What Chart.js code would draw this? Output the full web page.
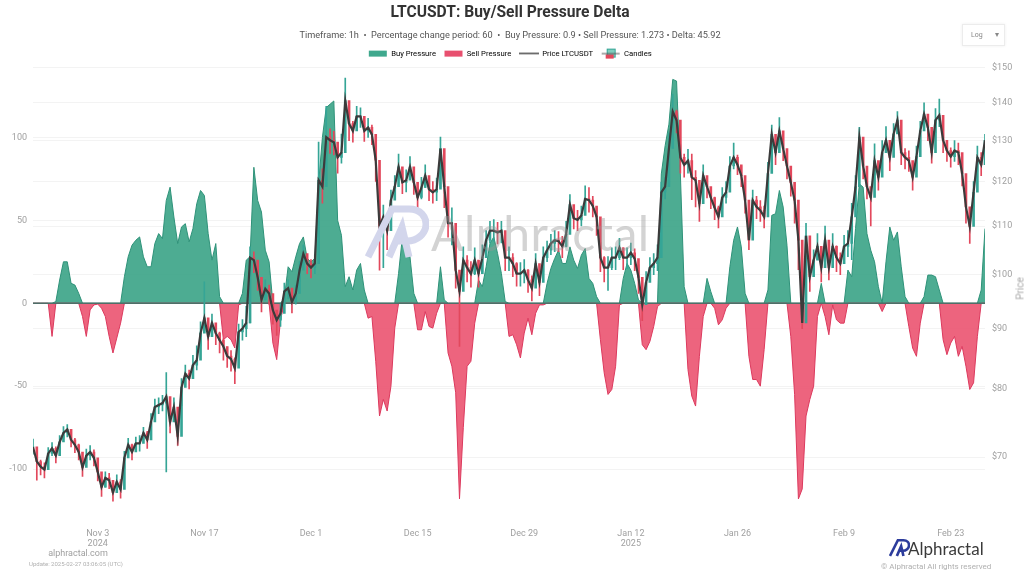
<!DOCTYPE html>
<html>
<head>
<meta charset="utf-8">
<title>LTCUSDT: Buy/Sell Pressure Delta</title>
<script src="https://cdn.jsdelivr.net/npm/chart.js@4/dist/chart.umd.min.js"></script>
<style>
    body { margin: 0; background: #fff; font-family: Roboto, sans-serif; }
    #wrap { position: relative; width: 1024px; height: 570px; overflow: hidden; }
    canvas { display: block; }
    .over { position: absolute; white-space: nowrap; pointer-events: none; }
    #log-box { left: 962px; top: 24px; width: 43px; height: 22px; box-sizing: border-box; border: 1px solid #ececec; box-shadow: 0 0 3px #eee; font-size: 7px; color: #888; line-height: 20px; padding-left: 8px; }
    #log-box span { position: absolute; right: 5px; font-size: 8px; }
    #price-title { left: 1000px; top: 283px; width: 40px; text-align: center; font-size: 10px; color: #aaa; transform: rotate(-90deg); }
    #mark { left: 365px; top: 203px; width: 64px; height: 56px; }
    #mark-text { left: 431px; top: 206px; font-family: Lato, sans-serif; font-size: 48px; line-height: 54px; color: rgba(150,150,150,0.42); letter-spacing: 0.5px; }
    #site { left: 18px; width: 120px; top: 548px; text-align: center; font-size: 9px; color: #a0a0a0; }
    #update { left: 16px; width: 120px; top: 560px; text-align: center; font-size: 6px; color: #b0b0b0; }
    #logo { left: 889px; top: 537px; width: 21px; height: 21px; }
    #logo-text { left: 908px; top: 539px; font-family: Lato, sans-serif; font-size: 17px; line-height: 20px; color: #3a3a3a; }
    #rights { left: 881px; top: 562px; font-size: 8px; color: #b0b0b0; }
</style>
</head>
<body>
<div id="wrap">
    <canvas id="chart" width="1024" height="570"></canvas>
    <div class="over" id="log-box">Log<span>▾</span></div>
    <div class="over" id="price-title">Price</div>
    <svg class="over" id="mark" viewBox="0 0 64 56" fill="none" stroke="#d3d6ec" stroke-width="7">
        <path d="M3 54 L27 6 H44 C56 6 61 14 61 21 C61 31 52 38 42 38 H30"/>
        <path d="M24 54 L37 24 L44 54"/>
    </svg>
    <div class="over" id="mark-text">Alphractal</div>
    <div class="over" id="site">alphractal.com</div>
    <div class="over" id="update">Update: 2025-02-27 03:06:05 (UTC)</div>
    <svg class="over" id="logo" viewBox="0 0 64 56" fill="none" stroke="#2c3c9c" stroke-width="8">
        <path d="M3 54 L27 6 H44 C56 6 61 14 61 21 C61 31 52 38 42 38 H30"/>
        <path d="M24 54 L37 24 L44 54"/>
    </svg>
    <div class="over" id="logo-text">Alphractal</div>
    <div class="over" id="rights">© Alphractal All rights reserved</div>
</div>
<script>
const chartTitle = 'LTCUSDT: Buy/Sell Pressure Delta';
const chartSubtitle = 'Timeframe: 1h  •  Percentage change period: 60  •  Buy Pressure: 0.9 • Sell Pressure: 1.273 • Delta: 45.92';

// one sample every 12 hours, first one on Oct 25 2024 12:00 UTC
const firstSample = Date.UTC(2024, 9, 25, 12);
const sampleStep = 12 * 3600 * 1000;

const deltaValues = [
    0,0,0,0,0,-20,1,14,25,25,
    12,11,6,-8,-20,-4,-1,-0.5,-3,-8,
    -20,-30,-21,-12,16,28,35,38,40,28,
    22,22,36,42,39,62,70,52,36,46,
    48,37,45,60,68,65,42,26,36,4,
    -22,-20,-22,-27,-1,6,26,28,82,62,
    55,32,25,-24,-34,-10,3,22,19,28,
    36,40,27,25,27,72,100,118,120,122,
    50,41,10,16,8,20,24,8,-9,-8,
    -35,-68,-58,-65,-50,-15,18,40,38,28,
    6,-16,-16,-5,-14,-15,-6,22,2,-30,
    -38,-54,-118,-75,-38,-35,-12,14,10,22,
    36,40,30,18,1,-20,-19,-25,-33,-18,
    -9,-19,-6,-1,-1,12,21,27,32,24,
    24,34,26,21,29,33,15,12,4,-22,
    -42,-55,-52,-38,-1,15,24,20,12,2,
    -25,-28,-23,-14,-2,78,95,108,135,134,
    78,10,-40,-56,-62,-32,-8,15,7,-3,
    -13,-10,-3,22,38,46,34,6,-32,-46,
    -46,-50,-28,8,53,54,68,58,35,-20,
    -55,-118,-112,-68,-58,-50,-8,12,-8,-19,
    -1,-10,-12,-12,20,16,45,72,70,42,
    32,25,10,-5,25,46,38,43,22,4,
    -14,-27,-32,-12,4,17,17,16,8,-22,
    -31,-24,-20,-32,-26,-38,-52,-48,-20,8,
    45
];

const priceClose = [
    71.4,69.4,68.7,68.3,70.5,71.2,70.2,72.1,73.4,73.9,
    72.4,71.7,70.7,68.6,70.2,70.7,69.9,68,66,67.2,
    66.9,65.3,66.7,65.7,69.9,71.7,70.7,71.9,71.9,73.4,
    72.4,75,77.2,77.5,77.8,78.8,75,77.2,72.9,80.2,
    82.4,81.6,83.8,84.6,89.2,91.9,88.6,91,89.2,88,
    86.9,85.3,84.8,83.3,89.4,90,91,103.4,102.9,99.5,
    95.2,97.3,96.4,93.3,91.5,92.7,96.8,97.4,94.8,96.4,
    100.9,104.2,102.2,101.4,102.2,120.3,118.8,130.9,130.1,129.6,
    125.8,127,140.6,134.4,132.5,136.3,136.3,132.5,133.4,131.6,
    125.1,110,112,109,115.7,118.8,123.5,119.8,120.3,123.5,
    119.8,116.3,118.6,121.4,118.2,117.5,118.2,128,118.8,110.6,
    110.6,100.9,96.8,102.9,101.4,100.2,102.9,100.2,103.4,107,
    109,109,108.6,109,103.4,103.4,102.2,100.2,100.2,100.9,
    99,97.4,102.2,98.5,103.4,104.9,106.3,107,106.8,105.7,
    108.2,114.7,111.7,111.3,112.3,116,115.7,114.4,112,103.4,
    101.4,101.4,103.4,103.4,105.4,103.4,103.4,104.4,103.2,99.5,
    94.3,98.5,101.4,102.2,103.4,117.5,118.8,128,137.6,135.3,
    125.8,124,125,121,120.3,114.9,121.4,118.8,116.3,114,
    112,116.3,117.5,123.7,125.8,124,121.4,115.7,107,115.7,
    114.2,113.4,112,121.9,131.6,127,132.5,128,123.7,119.8,
    115.7,107,91,107.9,99.6,102.9,105.7,101.4,107,101.4,
    105.7,103.4,102.2,105.7,106.3,112,118.8,130.9,123.7,118.8,
    116.3,125,121,127,130.1,125.8,131.7,135.3,127,125.8,
    125,121,126,132.5,136.9,133.4,127,135.3,136.6,130.1,
    127.5,126,127.5,127,121.9,114.2,109.9,117.5,125.8,124,
    130.1
];

const priceHigh = [
    72.5,71,69.6,69.2,71.3,72,71.4,73,74.3,74.6,
    73.4,72.6,71.8,69.8,71.1,71.6,71,69.2,67,68,
    67.8,66.6,67.6,67,70.8,72.6,71.8,72.8,73,74.2,
    73.6,76.2,78.4,78.6,79,82.6,77,78.6,74.6,81.6,
    83.8,83,85.4,87,91.2,98.6,90.4,92.6,90.6,89.4,
    88.2,86.8,86.2,85,90.8,91.6,94,105.6,104.6,101.4,
    97,99,98,95,93.2,94.4,98.4,99,96.4,98,
    102.6,106,104,103,104,129.6,123,139,133,132.4,
    128.4,131.7,146.9,137.4,135,139,138.6,135.2,135.8,134,
    128,114,114.6,112.4,118,121.4,126.6,122.4,122.8,126,
    122.4,118.8,121,124,120.8,120,120.8,130.9,122,113.6,
    114,103.6,100,105.6,103.8,102.6,105.4,102.8,106,109,
    111,111.4,110.8,111,106,105.6,104.2,102.4,102.4,103,
    101,99.8,104.2,101,105.6,106.8,108.2,109,108.8,107.8,
    111,117,113.8,113.4,114.4,119,118.6,116.6,114,106.6,
    103.6,103.6,105.4,105.6,107.4,105.4,105.4,106.4,105.2,102,
    97,100.6,103.4,104.2,106,119.8,121,132,142.4,138,
    129,126.6,127.8,126.6,122.6,118,124,121,118.6,116.4,
    114.4,118.6,120,126,129.4,126.4,123.6,118.4,110.4,118,
    116.6,115.6,114.4,124.6,134,129.6,136,130.6,126,122.4,
    118.4,110.4,100,110.6,103,105,108.4,104,110,104,
    108.4,105.8,104.4,108,109,115,121.4,133.4,126.4,121,
    118.6,129.2,123.6,130,133.6,128.4,134.4,137.6,130,128,
    127.4,123.4,128.6,135,140,136.2,129.6,138.4,141,133,
    130,128.2,130,129.4,124.4,116.6,112.4,120,128.6,127,
    131.6
];

const priceLow = [
    70.4,66.9,67.6,67.2,69.6,70.2,69.2,71.2,72.6,72.8,
    71.4,70.6,69.6,67.4,69.2,69.6,68.8,66.8,64.8,66,
    65.8,64.2,65.6,64.6,68.4,70.4,69.6,70.8,70.8,72.4,
    71.2,73.6,76,76.2,76.6,68,73.4,75.6,71.6,77.4,
    80.6,80,82,83,87,89.4,86.4,89,87.2,85.8,
    84.6,83.4,82.8,80.8,87.4,88,88.6,91,100.4,97,
    93,95.2,94.4,90.8,88.8,90.4,94.8,95.4,92.8,94.4,
    98.8,102,100.2,99.4,100.2,115,115,128,126.8,126.4,
    122,124.4,131,130,129.6,133.4,133.4,129.8,130.8,129,
    120,100.9,101.4,105,112.6,116.2,120.6,117.2,117.6,120.6,
    117,113.8,116,118.6,115.6,115,115.6,118.6,114,107.6,
    106,97.4,86.9,99.6,98.6,97.6,100,97.6,100.6,104,
    106.4,106.8,106.2,106.4,100.8,100.8,99.6,97.8,97.8,98.4,
    96.6,95,99.4,96,100.6,102.6,104,104.6,104.6,103.4,
    105.6,112,109.4,109,110,113.2,113,112,108,100.6,
    98.6,97,101,101,103,101,101.2,102,100.8,96.4,
    91.4,96,99.2,100,100.8,113.6,116,124.6,134,132,
    122,121,122,115.8,114.2,111,118.4,116.2,113.8,111.4,
    109.6,113.8,115,120.6,123,121.6,118.8,112.8,105,112.8,
    111.6,111,109.6,118.6,128,124,129,125,120.6,116.6,
    110.6,101,90,101,96.8,100.4,103,98.6,103.4,99,
    103.2,100.6,100,103.2,103.6,103,115.6,127.6,120.6,116,
    110,121.6,118,124,127,122.6,128.4,132,124,123,
    122.4,118,122.4,129.6,134,130,124.4,132,133.6,127,
    124.8,123.4,124.8,124,119,110.6,106.3,114.2,122.4,121.4,
    125
];

const deltaTicks = [-100, -50, 0, 50, 100];
const priceTicks = [70, 80, 90, 100, 110, 120, 130, 140, 150];
const dateTicks = [
    { time: Date.UTC(2024, 10, 3), label: ['Nov 3', '2024'] },
    { time: Date.UTC(2024, 10, 17), label: 'Nov 17' },
    { time: Date.UTC(2024, 11, 1), label: 'Dec 1' },
    { time: Date.UTC(2024, 11, 15), label: 'Dec 15' },
    { time: Date.UTC(2024, 11, 29), label: 'Dec 29' },
    { time: Date.UTC(2025, 0, 12), label: ['Jan 12', '2025'] },
    { time: Date.UTC(2025, 0, 26), label: 'Jan 26' },
    { time: Date.UTC(2025, 1, 9), label: 'Feb 9' },
    { time: Date.UTC(2025, 1, 23), label: 'Feb 23' },
];

const GREEN = '#2f9279';
const GREEN_FILL = 'rgba(58,163,134,0.9)';
const RED = '#dc3a5e';
const RED_FILL = 'rgba(234,78,108,0.88)';
const CANDLE_UP = '#35a596';
const CANDLE_DOWN = '#e2485c';

const sampleTimes = deltaValues.map((_, i) => firstSample + i * sampleStep);
const lastSample = sampleTimes[sampleTimes.length - 1];
const toPoints = values => values.map((v, i) => ({ x: sampleTimes[i], y: v }));

const candleColors = priceClose.map((c, i) => c >= (i ? priceClose[i - 1] : c) ? CANDLE_UP : CANDLE_DOWN);
const candleBodies = priceClose.map((c, i) => [i ? priceClose[i - 1] : c, c]);
const candleWicks = priceClose.map((_, i) => [priceLow[i], priceHigh[i]]);

function legendIcon(draw) {
    const icon = document.createElement('canvas');
    icon.width = 20;
    icon.height = 12;
    draw(icon.getContext('2d'));
    return icon;
}

const legendIcons = {
    'Buy Pressure': legendIcon(ctx => { ctx.fillStyle = '#3fa88d'; ctx.fillRect(1, 3, 18, 6); }),
    'Sell Pressure': legendIcon(ctx => { ctx.fillStyle = '#e8506f'; ctx.fillRect(1, 3, 18, 6); }),
    'Price LTCUSDT': legendIcon(ctx => { ctx.fillStyle = '#4a4a4a'; ctx.fillRect(0, 5, 20, 1.5); }),
    'Candles': legendIcon(ctx => {
        ctx.fillStyle = '#7fcdbd';
        ctx.fillRect(6, 1, 9, 9);
        ctx.strokeStyle = CANDLE_UP;
        ctx.strokeRect(6.5, 1.5, 8, 8);
        ctx.fillStyle = CANDLE_DOWN;
        ctx.fillRect(5, 7, 8, 4);
        ctx.strokeStyle = '#555';
        ctx.beginPath();
        ctx.moveTo(1, 6);
        ctx.lineTo(19, 6);
        ctx.stroke();
    }),
};

new Chart(document.getElementById('chart'), {
    data: {
        datasets: [
            {
                type: 'line', label: 'Buy Pressure', yAxisID: 'y', order: 5,
                data: toPoints(deltaValues.map(v => v > 0 ? v : 0)),
                borderColor: GREEN, backgroundColor: GREEN_FILL, borderWidth: 1,
                fill: 'origin', pointRadius: 0, tension: 0,
            },
            {
                type: 'line', label: 'Sell Pressure', yAxisID: 'y', order: 4,
                data: toPoints(deltaValues.map(v => v < 0 ? v : 0)),
                borderColor: RED, backgroundColor: RED_FILL, borderWidth: 1,
                fill: 'origin', pointRadius: 0, tension: 0,
            },
            {
                type: 'line', label: 'zero', yAxisID: 'y', order: 3,
                data: [{ x: firstSample, y: 0 }, { x: lastSample, y: 0 }],
                borderColor: '#4f6e68', borderWidth: 1.5, pointRadius: 0,
            },
            {
                type: 'line', label: 'Price LTCUSDT', yAxisID: 'y2', order: 0,
                data: toPoints(priceClose),
                borderColor: '#3b3b3b', borderWidth: 2.2, pointRadius: 0, tension: 0,
            },
            {
                type: 'bar', label: 'Candles', yAxisID: 'y2', order: 1, grouped: false,
                data: toPoints(candleBodies),
                backgroundColor: candleColors, barThickness: 2,
            },
            {
                type: 'bar', label: 'wicks', yAxisID: 'y2', order: 2, grouped: false,
                data: toPoints(candleWicks),
                backgroundColor: candleColors, barThickness: 1,
            },
        ],
    },
    options: {
        responsive: false,
        animation: false,
        parsing: { xAxisKey: 'x', yAxisKey: 'y' },
        layout: { padding: { right: 4 } },
        plugins: {
            tooltip: { enabled: false },
            title: {
                display: true, text: chartTitle, color: '#333',
                font: { family: 'Roboto', size: 15.6, weight: 'bold' },
                padding: { top: 4, bottom: 3 },
            },
            subtitle: {
                display: true, text: chartSubtitle, color: '#555',
                font: { family: 'Roboto', size: 9.2 },
                padding: { top: 4, bottom: 1 },
            },
            legend: {
                labels: {
                    usePointStyle: true, pointStyleWidth: 19, boxHeight: 8, padding: 8,
                    color: '#555',
                    font: { family: 'Roboto', size: 7.7 },
                    generateLabels: chart => chart.data.datasets
                        .map((d, i) => ({ text: d.label, datasetIndex: i, pointStyle: legendIcons[d.label], lineWidth: 0 }))
                        .filter(item => item.pointStyle),
                },
            },
        },
        scales: {
            x: {
                type: 'linear', min: firstSample, max: lastSample, offset: false,
                afterBuildTicks: scale => { scale.ticks = dateTicks.map(t => ({ value: t.time })); },
                afterFit: scale => { scale.height = 55; },
                grid: { display: false, drawTicks: false },
                border: { display: false },
                ticks: {
                    autoSkip: false, maxRotation: 0, padding: 13, color: '#a0a0a0',
                    font: { family: 'Roboto', size: 9 },
                    callback: v => dateTicks.find(t => t.time === v).label,
                },
            },
            y: {
                type: 'linear', position: 'left', min: -127.7, max: 142.2,
                afterBuildTicks: scale => { scale.ticks = deltaTicks.map(v => ({ value: v })); },
                afterFit: scale => { scale.width = 33; },
                grid: { color: c => c.tick.value === 0 ? 'transparent' : '#f3f3f3', drawTicks: false },
                border: { display: false },
                ticks: { padding: 6, color: '#a0a0a0', font: { family: 'Roboto', size: 9 } },
            },
            y2: {
                type: 'logarithmic', position: 'right', min: 62.5, max: 150,
                afterBuildTicks: scale => { scale.ticks = priceTicks.map(v => ({ value: v })); },
                afterFit: scale => { scale.width = 35; },
                grid: { color: '#f3f3f3', drawTicks: false },
                border: { display: false },
                ticks: { autoSkip: false, padding: 7, color: '#a0a0a0', font: { family: 'Roboto', size: 9 }, callback: v => '$' + v },
            },
        },
    },
});
</script>
</body>
</html>
